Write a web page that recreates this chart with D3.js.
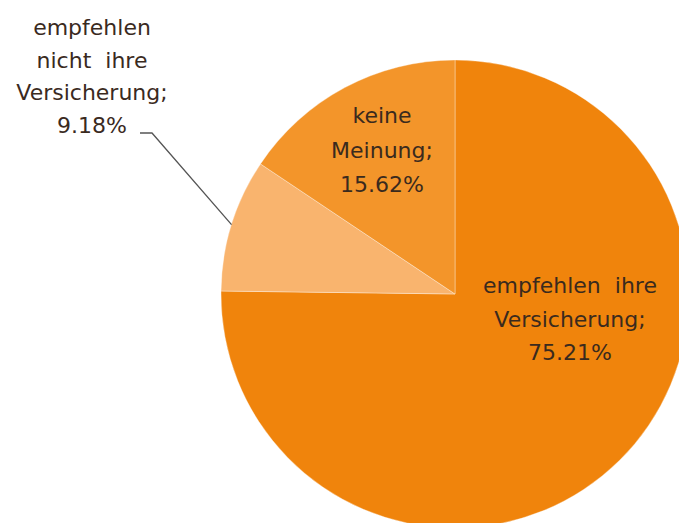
<!DOCTYPE html>
<html>
<head>
<meta charset="utf-8">
<script src="https://cdn.jsdelivr.net/npm/d3@7"></script>
<style>
  html, body { margin: 0; padding: 0; background: #fff; }
  svg { display: block; }
  text { font-family: "DejaVu Sans", Verdana, sans-serif; font-size: 22px; fill: #3a2a1e; }
</style>
</head>
<body>
<svg id="chart" width="679" height="523"></svg>
<script>
// slices, clockwise from 12 o'clock
const categories = ["empfehlen ihre Versicherung", "empfehlen nicht ihre Versicherung", "keine Meinung"];
const shares = [75.21, 9.18, 15.62];
const labelLines = [
  ["empfehlen  ihre", "Versicherung;", "75.21%"],
  ["empfehlen", "nicht  ihre", "Versicherung;", "9.18%"],
  ["keine", "Meinung;", "15.62%"]
];
const colors = ["#f0840c", "#f9b46e", "#f3952a"];

const width = 679, height = 523;
const cx = 455, cy = 294, radius = 234;

const svg = d3.select("#chart");
const g = svg.append("g").attr("transform", `translate(${cx},${cy})`);

const pie = d3.pie().sort(null).value(d => d);
const arcs = pie(shares);

const arc = d3.arc().innerRadius(0).outerRadius(radius);

g.selectAll("path.slice")
  .data(arcs)
  .enter()
  .append("path")
  .attr("class", "slice")
  .attr("d", arc)
  .attr("fill", (d, i) => colors[i])
  .attr("stroke", "rgba(255,255,255,0.35)")
  .attr("stroke-width", 1);

// label anchors (centre of first line, line height)
const labelPos = [
  { x: 570, y: 293, lh: 33.5 },
  { x: 92, y: 35, lh: 32.5 },
  { x: 382, y: 123, lh: 34.5 }
];

arcs.forEach((a, i) => {
  const p = labelPos[i];
  const t = svg.append("text")
    .attr("text-anchor", "middle")
    .attr("x", p.x)
    .attr("y", p.y);
  labelLines[i].forEach((line, k) => {
    t.append("tspan")
      .attr("x", p.x)
      .attr("y", p.y + k * p.lh)
      .attr("xml:space", "preserve")
      .text(line);
  });
});

// leader line for the small slice
const small = arcs[1];
const mid = (small.startAngle + small.endAngle) / 2;
const edge = [cx + radius * Math.sin(mid), cy - radius * Math.cos(mid)];
svg.append("polyline")
  .attr("points", [[140, 133], [152, 133], edge].map(p => p.join(",")).join(" "))
  .attr("fill", "none")
  .attr("stroke", "#555")
  .attr("stroke-width", 1.3);
</script>
</body>
</html>
